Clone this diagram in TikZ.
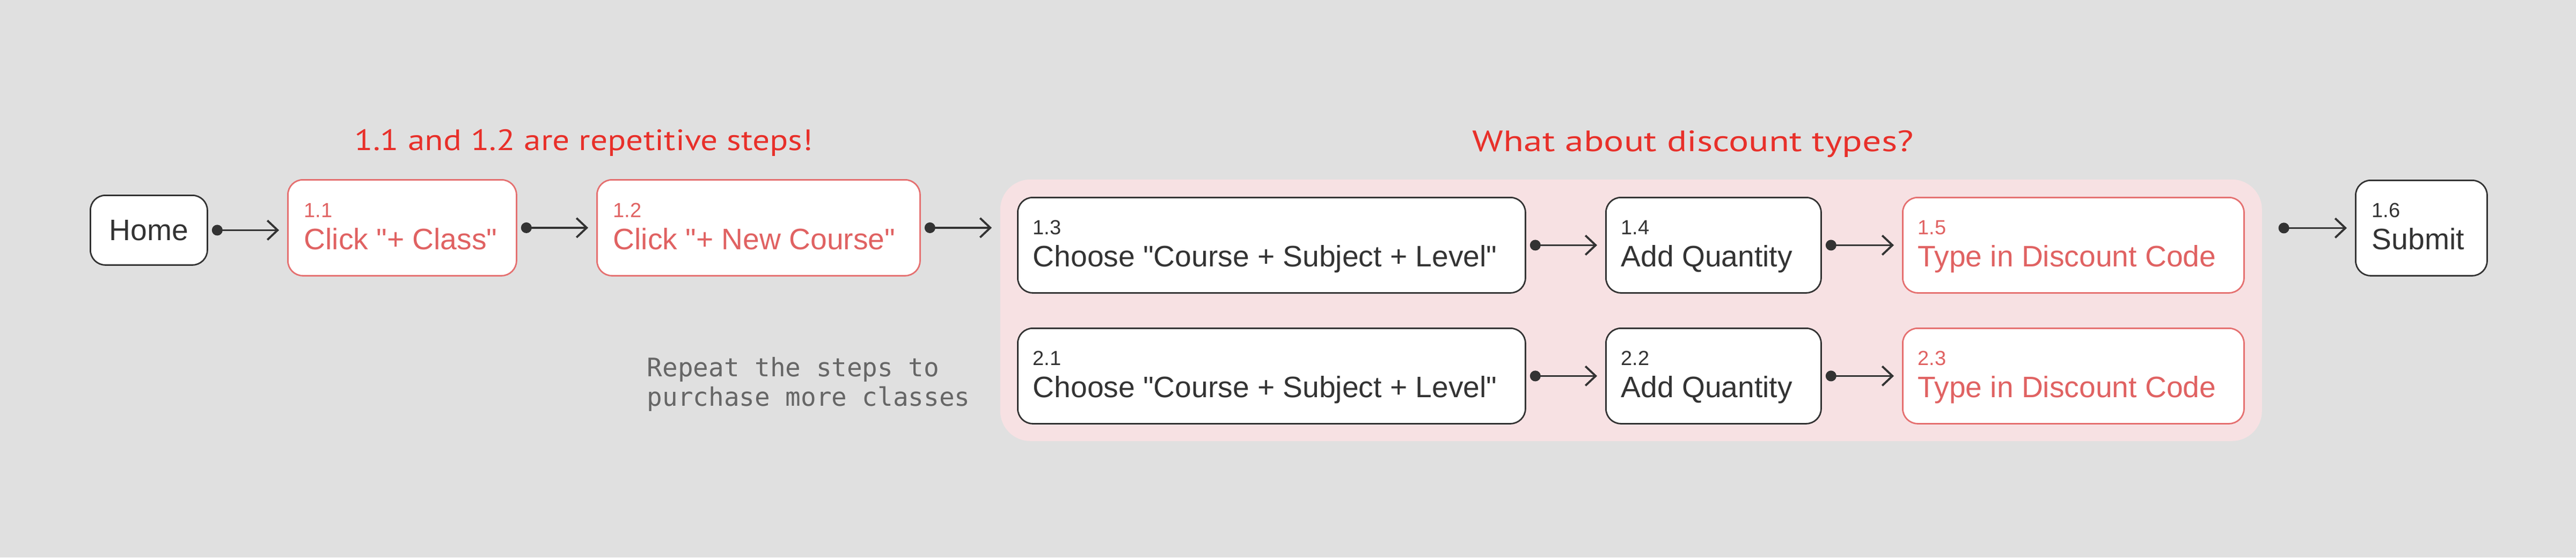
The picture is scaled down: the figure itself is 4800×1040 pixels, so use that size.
\documentclass[tikz,border=0pt]{standalone}
\usepackage{graphicx}
\usepackage{fontspec}
\setmainfont{Liberation Sans}[Ligatures=TeXOff]
\newfontfamily\monof{DejaVu Sans Mono}[Ligatures=TeXOff]
\newfontfamily\handf{PT Sans}[Ligatures=TeXOff]
\usetikzlibrary{arrows.meta}
\definecolor{bg}{HTML}{E0E0E0}
\definecolor{pinkbg}{HTML}{F7E1E3}
\definecolor{dark}{HTML}{333333}
\definecolor{coral}{HTML}{E06262}
\definecolor{coralline}{HTML}{E57070}
\definecolor{annot}{HTML}{E8302A}
\definecolor{graytxt}{HTML}{666666}
\begin{document}
\begin{tikzpicture}[x=0.25pt,y=-0.25pt,
  box/.style={draw=dark, line width=0.7pt, fill=white, rounded corners=7pt, inner sep=0pt, anchor=north west},
  redbox/.style={box, draw=coralline},
  lbl/.style={anchor=base west, inner sep=0pt, font=\fontsize{9.5}{11}\selectfont, text=dark},
  mn/.style={anchor=base west, inner sep=0pt, font=\fontsize{13.8}{16}\selectfont, text=dark},
  redtxt/.style={text=coral},
  conn/.style={draw=dark, line width=0.95pt, {Circle[length=5pt]}-{Straight Barb[length=4.75pt,width=9pt]}, shorten <=1.75pt, shorten >=3.75pt},
  note/.style={anchor=base west, inner sep=0pt, text=annot, font=\handf\fontsize{13.75}{16}\selectfont},
  mono/.style={anchor=base west, inner sep=0pt, text=graytxt, font=\monof\fontsize{11.9}{13.75}\selectfont}
]
\fill[bg] (0,0) rectangle (4800,1040);
\useasboundingbox (0,0) rectangle (4800,1040);

% group region
\node[fill=pinkbg, rounded corners=14pt, inner sep=0pt, anchor=north west, minimum width=587.75pt, minimum height=122pt] (grp) at (1863,334) {};

% Home
\node[box, minimum width=54.5pt, minimum height=32.5pt, font=\fontsize{13.8}{16}\selectfont, text=dark] (home) at (167,363) {Home};

% 1.1
\node[redbox, minimum width=106.5pt, minimum height=44.75pt] (s11) at (535,334) {};
\node[lbl, redtxt] (s11n) at ([xshift=7.75pt, yshift=-17.75pt]s11.north west) {1.1};
\node[mn, redtxt] (s11t) at ([xshift=7.75pt, yshift=-32.75pt]s11.north west) {Click "+ Class"};

% 1.2
\node[redbox, minimum width=150.5pt, minimum height=44.75pt] (s12) at (1111,334) {};
\node[lbl, redtxt] (s12n) at ([xshift=7.75pt, yshift=-17.75pt]s12.north west) {1.2};
\node[mn, redtxt] (s12t) at ([xshift=7.75pt, yshift=-32.75pt]s12.north west) {Click "+ New Course"};

% 1.3
\node[box, minimum width=236.5pt, minimum height=44.5pt] (s13) at (1895,367) {};
\node[lbl] (s13n) at ([xshift=7.25pt, yshift=-17.5pt]s13.north west) {1.3};
\node[mn] (s13t) at ([xshift=7.25pt, yshift=-32.5pt]s13.north west) {Choose "Course + Subject + Level"};

% 1.4
\node[box, minimum width=100.25pt, minimum height=44.5pt] (s14) at (2991,367) {};
\node[lbl] (s14n) at ([xshift=7.25pt, yshift=-17.5pt]s14.north west) {1.4};
\node[mn] (s14t) at ([xshift=7.25pt, yshift=-32.5pt]s14.north west) {Add Quantity};

% 1.5
\node[redbox, minimum width=159pt, minimum height=44.5pt] (s15) at (3544,367) {};
\node[lbl, redtxt] (s15n) at ([xshift=7.25pt, yshift=-17.5pt]s15.north west) {1.5};
\node[mn, redtxt] (s15t) at ([xshift=7.25pt, yshift=-32.5pt]s15.north west) {Type in Discount Code};

% 2.1
\node[box, minimum width=236.5pt, minimum height=44.5pt] (s21) at (1895,611) {};
\node[lbl] (s21n) at ([xshift=7.25pt, yshift=-17.5pt]s21.north west) {2.1};
\node[mn] (s21t) at ([xshift=7.25pt, yshift=-32.5pt]s21.north west) {Choose "Course + Subject + Level"};

% 2.2
\node[box, minimum width=100.25pt, minimum height=44.5pt] (s22) at (2991,611) {};
\node[lbl] (s22n) at ([xshift=7.25pt, yshift=-17.5pt]s22.north west) {2.2};
\node[mn] (s22t) at ([xshift=7.25pt, yshift=-32.5pt]s22.north west) {Add Quantity};

% 2.3
\node[redbox, minimum width=159pt, minimum height=44.5pt] (s23) at (3544,611) {};
\node[lbl, redtxt] (s23n) at ([xshift=7.25pt, yshift=-17.5pt]s23.north west) {2.3};
\node[mn, redtxt] (s23t) at ([xshift=7.25pt, yshift=-32.5pt]s23.north west) {Type in Discount Code};

% 1.6
\node[box, minimum width=61.25pt, minimum height=44.5pt] (s16) at (4388,335) {};
\node[lbl] (s16n) at ([xshift=7.75pt, yshift=-17.5pt]s16.north west) {1.6};
\node[mn] (s16t) at ([xshift=7.75pt, yshift=-32.5pt]s16.north west) {Submit};

% connectors
\draw[conn] (home.east) -- (home.east -| s11.west);
\draw[conn] (s11.east) -- (s12.west);
\draw[conn] (s12.east) -- (s12.east -| grp.west);
\draw[conn] (s13.east) -- (s14.west);
\draw[conn] (s14.east) -- (s15.west);
\draw[conn] (s21.east) -- (s22.west);
\draw[conn] (s22.east) -- (s23.west);
\draw[conn, shorten <=7.5pt] (grp.east |- s16.west) -- (s16.west);

% notes
\node[note] (n1) at (660,280) {\resizebox{213.5pt}{\height}{1.1 and 1.2 are repetitive steps!}};
\node[note] (n2) at (2743,282) {\resizebox{205.5pt}{\height}{What about discount types?}};
\node[mono] (r1) at (1205,702) {Repeat the steps to};
\node[mono] (r2) at (1205,757) {purchase more classes};
\end{tikzpicture}
\end{document}
